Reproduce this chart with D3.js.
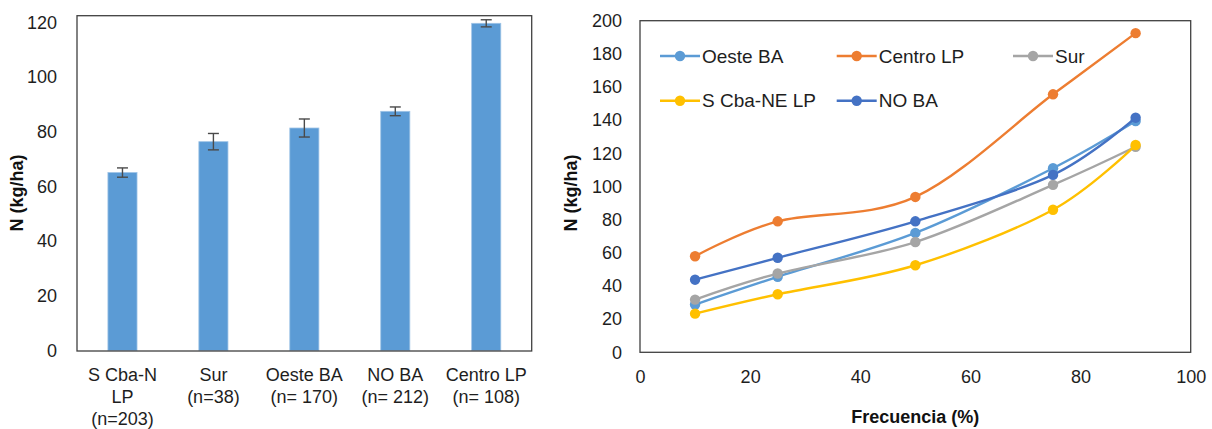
<!DOCTYPE html>
<html>
<head>
<meta charset="utf-8">
<script src="https://cdn.jsdelivr.net/npm/d3@7"></script>
<style>
  html, body { margin: 0; padding: 0; background: #fff; }
  svg { display: block; font-family: "Liberation Sans", Arial, sans-serif; }
</style>
</head>
<body>
<svg id="chart" width="1212" height="429"></svg>
<script>
// ---------- Data: left bar chart ----------
const barCategories = ["S Cba-N LP", "Sur", "Oeste BA", "NO BA", "Centro LP"];
const barLabelLines = [["S Cba-N", "LP", "(n=203)"], ["Sur", "(n=38)"], ["Oeste BA", "(n= 170)"], ["NO BA", "(n= 212)"], ["Centro LP", "(n= 108)"]];
const barValues = [65.1, 76.4, 81.4, 87.5, 119.7];
const barErrors = [1.7, 3.0, 3.3, 1.6, 1.3];
const barYTicks = [0, 20, 40, 60, 80, 100, 120];

// ---------- Data: right line chart ----------
const freqX = [10, 25, 50, 75, 90];
const seriesNames = ["Oeste BA", "Centro LP", "Sur", "S Cba-NE LP", "NO BA"];
const oesteBA = [28.8, 45.5, 72, 111, 139.5];
const centroLP = [57.9, 79, 93.7, 155.6, 192.5];
const sur = [31.8, 47.5, 66.5, 101, 124];
const sCbaNeLP = [23.3, 35, 52.5, 86, 125];
const noBA = [43.8, 57, 79, 107, 141.5];
const lineYTicks = [0, 20, 40, 60, 80, 100, 120, 140, 160, 180, 200];
const lineXTicks = [0, 20, 40, 60, 80, 100];

const seriesColors = ["#5B9BD5", "#ED7D31", "#A5A5A5", "#FFC000", "#4472C4"];
const seriesValues = [oesteBA, centroLP, sur, sCbaNeLP, noBA];

const svg = d3.select("#chart");
const textColor = "#1e1e1e";
const frameColor = "#404040";

// ================= LEFT CHART =================
const L = { left: 77, right: 531.7, top: 15.7, bottom: 351 };
const xBand = d3.scaleBand().domain(barCategories).range([L.left, L.right]).paddingInner(0.68).paddingOuter(0.34);
const yBar = d3.scaleLinear().domain([0, 120]).range([350.5, 22.5]);

const gL = svg.append("g");

// bars
gL.selectAll("rect.bar").data(barValues).join("rect")
  .attr("class", "bar")
  .attr("x", (d, i) => xBand(barCategories[i]))
  .attr("width", xBand.bandwidth())
  .attr("y", d => yBar(d))
  .attr("height", d => yBar(0) - yBar(d))
  .attr("fill", "#5B9BD5")
  .attr("stroke", "#9DC3E6")
  .attr("stroke-width", 0.8);

// error bars
const eb = gL.selectAll("g.err").data(barValues).join("g").attr("class", "err")
  .attr("stroke", "#4a4a4a").attr("stroke-width", 1.4);
eb.append("line")
  .attr("x1", (d, i) => xBand(barCategories[i]) + xBand.bandwidth() / 2)
  .attr("x2", (d, i) => xBand(barCategories[i]) + xBand.bandwidth() / 2)
  .attr("y1", (d, i) => yBar(d - barErrors[i]))
  .attr("y2", (d, i) => yBar(d + barErrors[i]));
[-1, 1].forEach(s => {
  eb.append("line")
    .attr("x1", (d, i) => xBand(barCategories[i]) + xBand.bandwidth() / 2 - 5.5)
    .attr("x2", (d, i) => xBand(barCategories[i]) + xBand.bandwidth() / 2 + 5.5)
    .attr("y1", (d, i) => yBar(d + s * barErrors[i]))
    .attr("y2", (d, i) => yBar(d + s * barErrors[i]));
});

// frame
gL.append("rect")
  .attr("x", L.left).attr("y", L.top)
  .attr("width", L.right - L.left).attr("height", L.bottom - L.top)
  .attr("fill", "none").attr("stroke", frameColor).attr("stroke-width", 1.3);

// y axis
const yAxisL = gL.append("g").attr("transform", `translate(${L.left},0)`)
  .call(d3.axisLeft(yBar).tickValues(barYTicks).tickSize(0).tickPadding(20));
yAxisL.select(".domain").remove();
yAxisL.selectAll("text").attr("font-size", 18).attr("fill", textColor)
  .style("font-family", "'Liberation Sans', Arial, sans-serif");

// category labels
const catG = gL.selectAll("text.cat").data(barLabelLines).join("text")
  .attr("class", "cat")
  .attr("x", (d, i) => xBand(barCategories[i]) + xBand.bandwidth() / 2)
  .attr("text-anchor", "middle")
  .attr("font-size", 18)
  .attr("fill", textColor);
catG.selectAll("tspan").data(d => d).join("tspan")
  .attr("x", function () { return d3.select(this.parentNode).attr("x"); })
  .attr("y", (d, j) => 380.5 + j * 22.3)
  .text(d => d);

// y title
gL.append("text")
  .attr("transform", "translate(17,193) rotate(-90)")
  .attr("text-anchor", "middle")
  .attr("dominant-baseline", "central")
  .attr("font-size", 18).attr("font-weight", "bold").attr("fill", "#111")
  .text("N (kg/ha)");

// ================= RIGHT CHART =================
const R = { left: 640, right: 1190.7, top: 20.7, bottom: 352.3 };
const xLin = d3.scaleLinear().domain([0, 100]).range([R.left, R.right]);
const yLin = d3.scaleLinear().domain([0, 200]).range([R.bottom, R.top]);

const gR = svg.append("g");

gR.append("rect")
  .attr("x", R.left).attr("y", R.top)
  .attr("width", R.right - R.left).attr("height", R.bottom - R.top)
  .attr("fill", "none").attr("stroke", frameColor).attr("stroke-width", 1.3);

const yAxisR = gR.append("g").attr("transform", `translate(${R.left},0)`)
  .call(d3.axisLeft(yLin).tickValues(lineYTicks).tickSize(0).tickPadding(18));
yAxisR.select(".domain").remove();
yAxisR.selectAll("text").attr("font-size", 18).attr("fill", textColor)
  .style("font-family", "'Liberation Sans', Arial, sans-serif");

const xAxisR = gR.append("g").attr("transform", `translate(0,${R.bottom})`)
  .call(d3.axisBottom(xLin).tickValues(lineXTicks).tickSize(0).tickPadding(18));
xAxisR.select(".domain").remove();
xAxisR.selectAll("text").attr("font-size", 18).attr("fill", textColor)
  .style("font-family", "'Liberation Sans', Arial, sans-serif");

// titles
gR.append("text")
  .attr("transform", "translate(571,193) rotate(-90)")
  .attr("text-anchor", "middle").attr("dominant-baseline", "central")
  .attr("font-size", 18).attr("font-weight", "bold").attr("fill", "#111")
  .text("N (kg/ha)");
gR.append("text")
  .attr("x", (R.left + R.right) / 2).attr("y", 416.5)
  .attr("text-anchor", "middle").attr("dominant-baseline", "central")
  .attr("font-size", 18).attr("font-weight", "bold").attr("fill", "#111")
  .text("Frecuencia (%)");

// lines
const lineGen = d3.line()
  .x((d, i) => xLin(freqX[i]))
  .y(d => yLin(d))
  .curve(d3.curveCatmullRom.alpha(0));

seriesValues.forEach((vals, si) => {
  const g = gR.append("g");
  g.append("path")
    .attr("d", lineGen(vals))
    .attr("fill", "none")
    .attr("stroke", seriesColors[si])
    .attr("stroke-width", 2.4)
    .attr("stroke-linejoin", "round");
  g.selectAll("circle").data(vals).join("circle")
    .attr("cx", (d, i) => xLin(freqX[i]))
    .attr("cy", d => yLin(d))
    .attr("r", 5.2)
    .attr("fill", seriesColors[si]);
});

// legend
const legendPos = [[660, 56], [836.7, 56], [1013, 56], [660, 100.7], [836.7, 100.7]];
seriesNames.forEach((name, si) => {
  const [lx, ly] = legendPos[si];
  const g = gR.append("g");
  g.append("line")
    .attr("x1", lx).attr("x2", lx + 40).attr("y1", ly).attr("y2", ly)
    .attr("stroke", seriesColors[si]).attr("stroke-width", 2.4);
  g.append("circle").attr("cx", lx + 20).attr("cy", ly).attr("r", 5.2).attr("fill", seriesColors[si]);
  g.append("text")
    .attr("x", lx + 42).attr("y", ly)
    .attr("dominant-baseline", "central")
    .attr("font-size", 19).attr("fill", textColor)
    .text(name);
});
</script>
</body>
</html>
